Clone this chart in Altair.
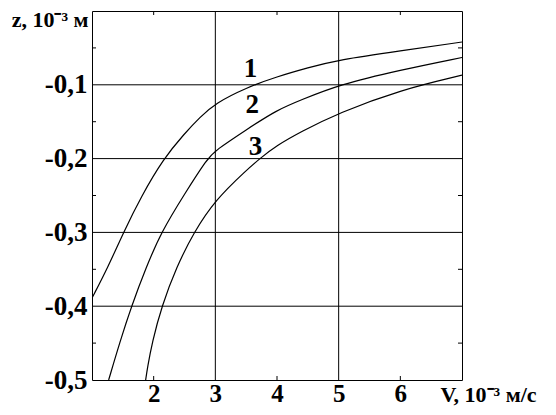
import altair as alt
import pandas as pd

# ---- data ----
v1 = [1.0, 1.26, 1.51, 1.8, 2.16, 2.5, 2.75, 3.0, 3.5, 4.0, 4.5, 5.0, 6.0, 7.0]
z1 = [-0.389, -0.347, -0.30, -0.251, -0.20, -0.166, -0.144, -0.125, -0.104,
      -0.089, -0.077, -0.066, -0.054, -0.042]

v2 = [1.27, 1.45, 1.64, 1.88, 2.12, 2.5, 2.87, 3.0, 3.5, 4.0, 4.38, 5.0, 6.0, 7.0]
z2 = [-0.5, -0.449, -0.40, -0.347, -0.30, -0.248, -0.20, -0.189, -0.161,
      -0.134, -0.121, -0.10, -0.080, -0.063]

v3 = [1.87, 1.90, 1.975, 2.13, 2.37, 2.65, 3.0, 3.5, 3.72, 4.0, 4.38, 5.0, 6.0, 7.0]
z3 = [-0.5, -0.483, -0.449, -0.40, -0.347, -0.30, -0.256, -0.216, -0.20,
      -0.182, -0.164, -0.138, -0.107, -0.087]

label_names = ["1", "2", "3"]
label_v = [3.57, 3.60, 3.65]
label_z = [-0.079, -0.127, -0.184]

x_tick_values = [2, 3, 4, 5, 6]
y_tick_values = [-0.5, -0.4, -0.3, -0.2, -0.1]
grid_v = [3, 5]
grid_z = [-0.1, -0.2, -0.3, -0.4]
minor_v = [2, 4, 6]
minor_z = [-0.05, -0.15, -0.25, -0.35, -0.45]
x_domain = [1, 7]
y_domain = [-0.5, 0]

x_title = "V, 10⁻³ м/с"
y_title = "z, 10⁻³ м"

# ---- tables ----
curves = pd.concat([
    pd.DataFrame({"V": v1, "z": z1, "s": "1"}),
    pd.DataFrame({"V": v2, "z": z2, "s": "2"}),
    pd.DataFrame({"V": v3, "z": z3, "s": "3"}),
], ignore_index=True)
labels = pd.DataFrame({"t": label_names, "V": label_v, "z": label_z})
gv = pd.DataFrame({"V": grid_v, "z": [y_domain[0]] * len(grid_v)})
gz = pd.DataFrame({"z": grid_z, "V": [x_domain[0]] * len(grid_z)})
vt = pd.DataFrame([{"V": v, "z": z} for v in minor_v for z in y_domain])
ht = pd.DataFrame([{"V": v, "z": z} for v in x_domain for z in minor_z])

FONT = "Liberation Serif"
FS = 27
FT = 22

xs = alt.Scale(domain=x_domain, nice=False, zero=False)
ys = alt.Scale(domain=y_domain, nice=False, zero=False)

x_axis = alt.Axis(
    values=x_tick_values, ticks=False, tickSize=0, domain=False, grid=False,
    labelFont=FONT, labelFontWeight="bold", labelFontSize=25, labelColor="black",
    labelPadding=1, labelFlush=False, labelOverlap=False,
    title=x_title, titleFont=FONT, titleFontWeight="bold", titleFontSize=FT,
    titleColor="black", titleX=348, titleY=14, titleAlign="left",
    titleBaseline="middle",
)
y_axis = alt.Axis(
    values=y_tick_values, ticks=False, tickSize=0, domain=False, grid=False,
    labelExpr="'-' + replace(format(-datum.value, '.1f'), '.', ',')",
    labelFont=FONT, labelFontWeight="bold", labelFontSize=FS, labelColor="black",
    labelPadding=5, labelFlush=False, labelOverlap=False,
    title=y_title, titleFont=FONT, titleFontWeight="bold", titleFontSize=FT,
    titleColor="black", titleAngle=0, titleX=-4, titleY=8, titleAlign="right",
    titleBaseline="middle",
)

X = alt.X("V:Q", scale=xs, axis=x_axis)
Y = alt.Y("z:Q", scale=ys, axis=y_axis)

lines = alt.Chart(curves).mark_line(
    color="black", strokeWidth=1.2, interpolate="basis", clip=True
).encode(x=X, y=Y, detail="s:N")

grid_x = alt.Chart(gv).mark_rule(color="black", strokeWidth=1).encode(
    x=X, y=alt.value(0), y2=alt.value(369)
)
grid_y = alt.Chart(gz).mark_rule(color="black", strokeWidth=1).encode(
    y=Y, x=alt.value(0), x2=alt.value(370)
)
vticks = alt.Chart(vt).mark_tick(
    orient="vertical", size=8, thickness=1, color="black", opacity=1, clip=True
).encode(x=X, y=Y)
hticks = alt.Chart(ht).mark_tick(
    orient="horizontal", size=8, thickness=1, color="black", opacity=1, clip=True
).encode(x=X, y=Y)
texts = alt.Chart(labels).mark_text(
    font=FONT, fontWeight="bold", fontSize=FS, color="black",
    align="center", baseline="middle"
).encode(x=X, y=Y, text="t:N")

chart = alt.layer(lines, grid_x, grid_y, vticks, hticks, texts).properties(
    width=370, height=369,
    autosize=alt.AutoSizeParams(type="none"),
    padding={"left": 84, "top": 3, "right": 86, "bottom": 27},
    background="white",
).configure_view(stroke="black", strokeWidth=1)

chart.save("out.html", embed_options={"renderer": "svg", "actions": False})
